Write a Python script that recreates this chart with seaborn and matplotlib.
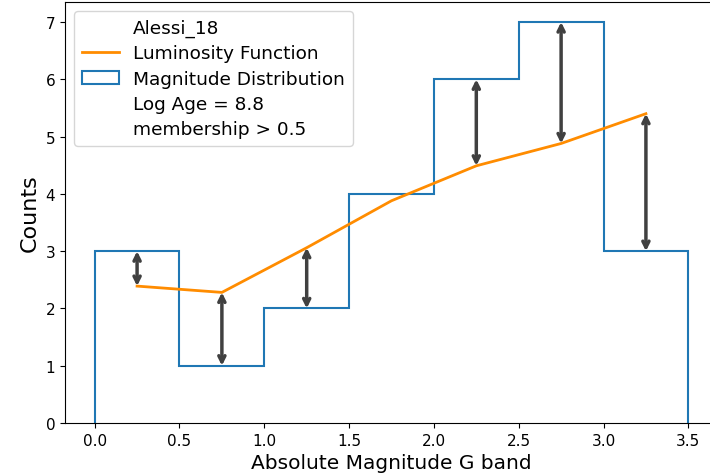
import matplotlib
matplotlib.use("Agg")
import matplotlib.pyplot as plt
import seaborn as sns
import numpy as np
import pandas as pd
from matplotlib.lines import Line2D
from matplotlib.patches import Patch

bin_edges = [0.0, 0.5, 1.0, 1.5, 2.0, 2.5, 3.0, 3.5]
bin_centers = [0.25, 0.75, 1.25, 1.75, 2.25, 2.75, 3.25]
hist_counts = [3, 1, 2, 4, 6, 7, 3]
lf_values = [2.39, 2.28, 3.06, 3.88, 4.49, 4.88, 5.40]
arrow_centers = [0.25, 0.75, 1.25, 2.25, 2.75, 3.25]

fig = plt.figure(figsize=(7.1, 4.77), dpi=100)
ax = fig.add_axes([65/710, 1 - 424/477, (718-65)/710, (424-3)/477])

ax.hist(bin_centers, bins=bin_edges, weights=hist_counts, histtype="step",
        color="#1f77b4", linewidth=1.5)
df = pd.DataFrame({"mag": bin_centers, "lf": lf_values})
sns.lineplot(data=df, x="mag", y="lf", ax=ax, color="darkorange", linewidth=2)

for xc in arrow_centers:
    i = bin_centers.index(xc)
    ax.annotate("", xy=(xc, lf_values[i]), xytext=(xc, hist_counts[i]),
                arrowprops=dict(arrowstyle="<->", color="#404040", lw=2.5,
                                shrinkA=0, shrinkB=0, mutation_scale=11))

ax.set_xlim(-0.175, 3.675)
ax.set_ylim(0, 7.35)
ax.set_xticks([0.0, 0.5, 1.0, 1.5, 2.0, 2.5, 3.0, 3.5])
ax.set_yticks(range(8))
ax.tick_params(labelsize=11)
ax.set_xlabel("Absolute Magnitude G band", fontsize=14.5)
ax.set_ylabel("Counts", fontsize=16)

handles = [
    Line2D([], [], color="none"),
    Line2D([], [], color="darkorange", linewidth=2),
    Patch(facecolor="none", edgecolor="#1f77b4", linewidth=1.5),
    Line2D([], [], color="none"),
    Line2D([], [], color="none"),
]
labels = ["Alessi_18", "Luminosity Function", "Magnitude Distribution",
          "Log Age = 8.8", "membership > 0.5"]
ax.legend(handles, labels, loc="upper left", fontsize=13.3, labelspacing=0.4,
          borderpad=0.4)

fig.savefig("out.png", dpi=100)
